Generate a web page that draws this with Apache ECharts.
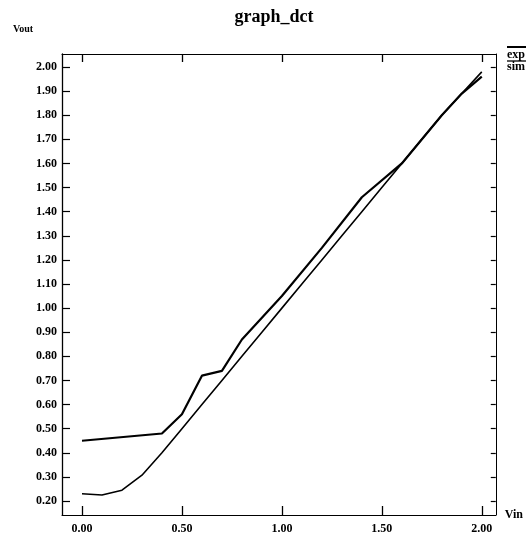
<!DOCTYPE html>
<html>
<head>
<meta charset="utf-8">
<script src="https://cdn.jsdelivr.net/npm/echarts@6/dist/echarts.min.js"></script>
<style>html,body{margin:0;padding:0;background:#fff}#c{width:526px;height:536px}</style>
</head>
<body>
<div id="c"></div>
<script>
const titleText = 'graph_dct';
const yName = 'Vout';
const xName = 'Vin';
const seriesNames = ['exp', 'sim'];
const expX = [0.0, 0.4, 0.5, 0.6, 0.7, 0.8, 1.0, 1.2, 1.4, 1.6, 1.8, 1.9, 2.0];
const expY = [0.45, 0.48, 0.56, 0.72, 0.74, 0.87, 1.05, 1.25, 1.46, 1.60, 1.80, 1.89, 1.96];
const simX = [0.0, 0.1, 0.2, 0.3, 0.4, 0.5, 0.6, 0.7, 0.8, 0.9, 1.0, 1.1, 1.2, 1.3, 1.4, 1.5, 1.6, 1.7, 1.8, 1.9, 2.0];
const simY = [0.23, 0.225, 0.245, 0.307, 0.40, 0.50, 0.60, 0.70, 0.80, 0.90, 1.00, 1.10, 1.20, 1.30, 1.40, 1.50, 1.60, 1.70, 1.80, 1.89, 1.98];
const xTicks = [0.0, 0.5, 1.0, 1.5, 2.0];
const yTicks = [0.2, 0.3, 0.4, 0.5, 0.6, 0.7, 0.8, 0.9, 1.0, 1.1, 1.2, 1.3, 1.4, 1.5, 1.6, 1.7, 1.8, 1.9, 2.0];

const font = 'Liberation Serif';
const chart = echarts.init(document.getElementById('c'));
const pairs = (xs, ys) => xs.map((x, i) => [x, ys[i]]);
const lineStyleAxis = { color: '#000', width: 1 };

chart.setOption({
  animation: false,
  backgroundColor: '#fff',
  title: {
    text: titleText, left: 269, top: 3, textAlign: 'center',
    textStyle: { fontFamily: font, fontWeight: 'bold', fontSize: 18, color: '#000' }
  },
  grid: { left: 62, right: 27, top: 54, bottom: 21 },
  xAxis: [
    {
      type: 'value', position: 'bottom', min: -0.1, max: 2.07,
      name: xName, nameLocation: 'end', nameGap: 9,
      nameTextStyle: { fontFamily: font, fontWeight: 'bold', fontSize: 12, color: '#000', verticalAlign: 'middle' },
      axisLine: { show: true, onZero: false, lineStyle: lineStyleAxis },
      axisTick: { show: true, inside: true, length: 9, customValues: xTicks, lineStyle: { color: '#000', width: 1.3 } },
      axisLabel: { customValues: xTicks, margin: 8, formatter: v => v.toFixed(2),
        fontFamily: font, fontWeight: 'bold', fontSize: 12, color: '#000' },
      splitLine: { show: false }
    },
    {
      type: 'value', position: 'top', min: -0.1, max: 2.07,
      axisLine: { show: true, onZero: false, lineStyle: lineStyleAxis },
      axisTick: { show: true, inside: true, length: 8, customValues: xTicks, lineStyle: { color: '#000', width: 1.3 } },
      axisLabel: { show: false },
      splitLine: { show: false }
    }
  ],
  yAxis: [
    {
      type: 'value', position: 'left', min: 0.142, max: 2.054,
      axisLine: { show: true, onZero: false, lineStyle: { color: '#000', width: 1.3 } },
      axisTick: { show: true, inside: true, length: 8, customValues: yTicks, lineStyle: { color: '#000', width: 1.2 } },
      axisLabel: { customValues: yTicks, margin: 5, formatter: v => v.toFixed(2),
        fontFamily: font, fontWeight: 'bold', fontSize: 12, color: '#000' },
      splitLine: { show: false }
    },
    {
      type: 'value', position: 'right', min: 0.142, max: 2.054,
      axisLine: { show: true, onZero: false, lineStyle: lineStyleAxis },
      axisTick: { show: true, inside: true, length: 5, customValues: yTicks, lineStyle: { color: '#000', width: 1.2 } },
      axisLabel: { show: false },
      splitLine: { show: false }
    }
  ],
  graphic: [
    { type: 'text', left: 13, top: 24, style: { text: yName, fontFamily: font, fontWeight: 'bold', fontSize: 10, fill: '#000' } },
    { type: 'line', shape: { x1: 507, y1: 47, x2: 526, y2: 47 }, style: { stroke: '#000', lineWidth: 2 } },
    { type: 'text', left: 507, top: 49, style: { text: seriesNames[0], fontFamily: font, fontWeight: 'bold', fontSize: 12, fill: '#000' } },
    { type: 'line', shape: { x1: 507, y1: 61, x2: 526, y2: 61 }, style: { stroke: '#000', lineWidth: 1.3 } },
    { type: 'text', left: 507, top: 61, style: { text: seriesNames[1], fontFamily: font, fontWeight: 'bold', fontSize: 12, fill: '#000' } }
  ],
  series: [
    { name: seriesNames[0], type: 'line', data: pairs(expX, expY), symbol: 'none',
      lineStyle: { color: '#000', width: 2.2 }, z: 3 },
    { name: seriesNames[1], type: 'line', data: pairs(simX, simY), symbol: 'none',
      lineStyle: { color: '#000', width: 1.6 }, z: 2 }
  ]
});
</script>
</body>
</html>
